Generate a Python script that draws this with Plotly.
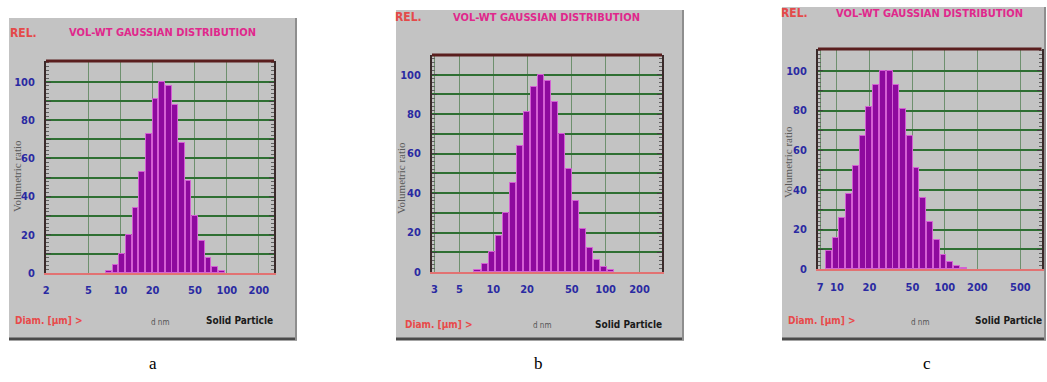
import plotly.graph_objects as go

W, H = 1047, 382

# ---------------- data ----------------
diam_a = [7.76, 8.97, 10.35, 11.95, 13.80, 15.94, 18.41, 21.26, 24.55, 28.35,
          32.73, 37.80, 43.65, 50.41, 58.21, 67.22, 77.62, 89.66]
ratio_a = [1, 4, 10, 20, 34, 53, 73, 91, 100, 98, 88, 68, 48, 30, 17, 8, 3, 1]

diam_b = [7.24, 8.37, 9.66, 11.16, 12.88, 14.88, 17.18, 19.84, 22.91, 26.46,
          30.55, 35.28, 40.74, 47.04, 54.33, 62.73, 72.44, 83.66, 96.61, 111.56]
ratio_b = [1, 4, 10, 18, 30, 45, 64, 81, 94, 100, 97, 86, 70, 52, 36, 22, 12, 6, 2.5, 1]

diam_c = [8.41, 9.72, 11.22, 12.96, 14.96, 17.28, 19.95, 23.04, 26.61, 30.72,
          35.48, 40.97, 47.32, 54.64, 63.10, 72.86, 84.14, 97.16, 112.2, 129.6, 149.6]
ratio_c = [9, 16, 26, 38, 52, 67, 82, 93, 100, 100, 93, 81, 67, 51, 36, 24, 15, 7, 3.5, 1.5, 0.5]

xticks_a = [2, 5, 10, 20, 50, 100, 200]
xticks_b = [3, 5, 10, 20, 50, 100, 200]
xticks_c = [7, 10, 20, 50, 100, 200, 500]
yticks = [0, 10, 20, 30, 40, 50, 60, 70, 80, 90, 100]
ylabels = ["0", "", "20", "", "40", "", "60", "", "80", "", "100"]

title_text = "VOL-WT GAUSSIAN DISTRIBUTION"
rel_text = "REL."
diam_text = "Diam. [µm] >"
dnm_text = "d nm"
solid_text = "Solid Particle"
ytitle_text = "Volumetric ratio"
letters = ["a", "b", "c"]

# ---------------- styling / layout ----------------
BINS_PER_DECADE = 16
FILL = 0.86
NARROW = "DejaVu Sans Condensed, Liberation Sans Narrow, Arial Narrow, sans-serif"
SERIF = "Liberation Serif, Times New Roman, serif"

panels = [
    dict(d=diam_a, v=ratio_a, ticks=xticks_a, box=(9, 18, 297, 340),
         plot=(46, 61, 274, 273), xr=(0.299, 2.443), yr=(0, 111),
         rel=(23, 33), title=(162, 33), diam=(48, 320), dnm=(160, 322),
         solid=(239, 320), letter=(153, 363), ytitle=(17, 176)),
    dict(d=diam_b, v=ratio_b, ticks=xticks_b, box=(396, 10, 684, 340),
         plot=(432, 55, 662, 272), xr=(0.455, 2.501), yr=(0, 110),
         rel=(408, 17), title=(546, 17), diam=(438, 324), dnm=(542, 325),
         solid=(628, 324), letter=(538, 363), ytitle=(401, 178)),
    dict(d=diam_c, v=ratio_c, ticks=xticks_c, box=(782, 7, 1046, 340),
         plot=(818, 49, 1041.5, 269.3), xr=(0.824, 2.895), yr=(0, 111),
         rel=(794, 13), title=(929, 13), diam=(821, 320), dnm=(920, 322),
         solid=(1008, 320), letter=(927, 363), ytitle=(788, 162)),
]


def px(x):
    return x / W


def py(y):
    return 1 - y / H


fig = go.Figure()
shapes = []
annotations = []
half = 10 ** (0.5 * FILL / BINS_PER_DECADE)

for i, p in enumerate(panels):
    sfx = "" if i == 0 else str(i + 1)
    xa, ya = "x" + sfx, "y" + sfx
    lower = [d / half for d in p["d"]]
    upper = [d * half for d in p["d"]]
    fig.add_trace(go.Bar(
        x=p["d"], y=p["v"], xaxis=xa, yaxis=ya,
        width=[u - l for u, l in zip(upper, lower)],
        offset=[l - d for l, d in zip(lower, p["d"])],
        marker=dict(color="#8E0A9E", line=dict(color="#D460D4", width=1)),
        showlegend=False, hoverinfo="x+y",
    ))
    x0, y0, x1, y1 = p["plot"]
    fig.layout["xaxis" + sfx] = dict(
        type="log", domain=[px(x0), px(x1)], range=list(p["xr"]), anchor=ya,
        tickvals=p["ticks"], ticktext=[str(t) for t in p["ticks"]],
        showgrid=True, gridcolor="#6E906E", gridwidth=1,
        showline=True, linecolor="#E27272", linewidth=2,
        ticks="", ticklabelstandoff=6, zeroline=False, automargin=False,
        tickfont=dict(family=NARROW, size=11, color="#2A2AA2", weight="bold"),
        fixedrange=True,
    )
    fig.layout["yaxis" + sfx] = dict(
        domain=[py(y1), py(y0)], range=list(p["yr"]), anchor=xa,
        tickvals=yticks, ticktext=ylabels,
        showgrid=True, gridcolor="#2F6F33", gridwidth=2,
        showline=True, linecolor="#3A2A2A", linewidth=2, mirror="ticks",
        ticks="inside", ticklen=5, tickcolor="#404040", tickwidth=1,
        minor=dict(dtick=2, ticks="inside", ticklen=3, tickcolor="#606060", showgrid=False),
        ticklabelstandoff=7, zeroline=False, automargin=False,
        tickfont=dict(family=NARROW, size=11, color="#2A2AA2", weight="bold"),
        fixedrange=True,
    )
    bx0, by0, bx1, by1 = p["box"]
    # grey panel with shadow edges
    shapes.append(dict(type="rect", xref="paper", yref="paper", layer="below",
                       x0=px(bx0), x1=px(bx1), y0=py(by1), y1=py(by0),
                       fillcolor="#C3C3C3", line=dict(width=0)))
    shapes.append(dict(type="line", xref="paper", yref="paper", layer="below",
                       x0=px(bx0), x1=px(bx1), y0=py(by1 - 1), y1=py(by1 - 1),
                       line=dict(color="#4A4A4A", width=3)))
    shapes.append(dict(type="line", xref="paper", yref="paper", layer="below",
                       x0=px(bx1 - 1), x1=px(bx1 - 1), y0=py(by1), y1=py(by0),
                       line=dict(color="#8E8E8E", width=2)))
    # top border of plot
    shapes.append(dict(type="line", xref=xa + " domain", yref=ya + " domain",
                       x0=0, x1=1, y0=1, y1=1,
                       line=dict(color="#5A1E1E", width=3)))

    def ann(text, pos, color, size, family=NARROW, weight="bold", angle=0):
        annotations.append(dict(
            text=text, x=px(pos[0]), y=py(pos[1]), xref="paper", yref="paper",
            showarrow=False, xanchor="center", yanchor="middle", textangle=angle,
            font=dict(family=family, size=size, color=color, weight=weight)))

    ann(rel_text, p["rel"], "#E44A4A", 12)
    ann(title_text, p["title"], "#E0288C", 11)
    ann(diam_text, p["diam"], "#E84A4A", 10)
    ann(dnm_text, p["dnm"], "#555555", 8, weight="normal")
    ann(solid_text, p["solid"], "#1A1A1A", 10)
    ann(letters[i], p["letter"], "#000000", 17, family=SERIF, weight="normal")
    ann(ytitle_text, p["ytitle"], "#5A5A5A", 11, family=SERIF, weight="normal", angle=-90)

fig.update_layout(
    width=W, height=H, margin=dict(l=0, r=0, t=0, b=0),
    paper_bgcolor="#FFFFFF", plot_bgcolor="#FBFFF9",
    shapes=shapes, annotations=annotations, bargap=0,
)

fig.write_html("out.html", config={"displayModeBar": False},
               post_script="document.body.style.margin='0';document.body.style.overflow='hidden';")
